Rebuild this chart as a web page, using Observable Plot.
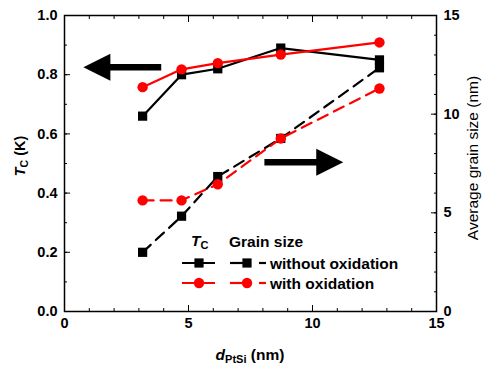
<!DOCTYPE html>
<html><head><meta charset="utf-8">
<script src="https://cdn.jsdelivr.net/npm/d3@7"></script>
<script src="https://cdn.jsdelivr.net/npm/@observablehq/plot@0.6"></script>
<style>body{margin:0;background:#fff;font-family:"Liberation Sans",Arial,sans-serif}</style>
</head><body><div id="chart"></div>
<script>
// Data
const thickness = [3.15, 4.72, 6.18, 8.72, 12.7];          // d_PtSi (nm)
const tcWithout = [0.66, 0.80, 0.82, 0.89, 0.85];          // Tc (K), without oxidation
const tcWith    = [0.758, 0.818, 0.839, 0.868, 0.909];     // Tc (K), with oxidation
const grainWithout = [3.0, 4.83, 6.84, 8.77, 12.35];       // grain size (nm)
const grainWith    = [5.63, 5.63, 6.45, 8.77, 11.3];       // grain size (nm)
const xTicks = [0, 5, 10, 15];
const yTicks = [0, 0.2, 0.4, 0.6, 0.8, 1.0];
const rightTicks = [0, 5, 10, 15];
const grainMax = 15;
// annotation arrows
const arrowLeft = {tail: 3.9, tip: 0.76, y: 0.825};
const arrowRight = {tail: 8.06, tip: 11.24, y: 0.504};

const rows = thickness.map((x, i) => ({x, tcA: tcWithout[i], tcB: tcWith[i], gA: grainWithout[i] / grainMax, gB: grainWith[i] / grainMax}));
const arrows = [arrowLeft, arrowRight].map(a => ({...a, base: a.tip + (a.tail > a.tip ? 1 : -1) * 0.9, rot: a.tail > a.tip ? 180 : 0}));

const arrowHead = {draw(ctx) { ctx.moveTo(0, 0); ctx.lineTo(-27, -13.5); ctx.lineTo(-27, 13.5); ctx.closePath(); }};
const RED = "#ff0000";
const font = '"Liberation Sans", Arial, sans-serif';

const chart = Plot.plot({
  width: 484, height: 369,
  marginLeft: 64, marginRight: 48, marginTop: 15, marginBottom: 58,
  style: {fontFamily: font, fontSize: "13px", fontWeight: "bold", color: "#000", background: "#fff"},
  x: {domain: [0, 15]},
  y: {domain: [0, 1]},
  marks: [
    // minor ticks
    Plot.axisX({ticks: d3.range(0, 15.01, 1), tickSize: -3, text: null, anchor: "bottom", label: null}),
    Plot.axisX({ticks: d3.range(0, 15.01, 1), tickSize: -3, text: null, anchor: "top", label: null}),
    Plot.axisY({ticks: d3.range(0, 1.001, 0.1), tickSize: -3, text: null, anchor: "left", label: null}),
    Plot.axisY({ticks: d3.range(0, 15.01, 1).map(d => d / grainMax), tickSize: -3, text: null, anchor: "right", label: null}),
    // major ticks
    Plot.axisX({ticks: xTicks, tickSize: -6, text: null, anchor: "bottom", label: null}),
    Plot.axisX({ticks: xTicks, tickSize: -6, text: null, anchor: "top", label: null}),
    Plot.axisY({ticks: yTicks, tickSize: -6, text: null, anchor: "left", label: null}),
    Plot.axisY({ticks: rightTicks.map(d => d / grainMax), tickSize: -6, text: null, anchor: "right", label: null}),
    // labels
    Plot.axisX({ticks: xTicks, tickSize: 0, tickPadding: 6, anchor: "bottom", label: null, fontSize: 14.5}),
    Plot.axisY({ticks: yTicks, tickSize: 0, tickPadding: 7, anchor: "left", label: null, tickFormat: d3.format(".1f"), fontSize: 14.5}),
    Plot.axisY({ticks: rightTicks.map(d => d / grainMax), tickSize: 0, tickPadding: 7, anchor: "right", label: null, tickFormat: d => Math.round(d * grainMax), fontSize: 14.5}),
    Plot.frame({stroke: "#000", strokeWidth: 1.5}),
    // arrows
    Plot.link(arrows, {x1: "tail", x2: "base", y1: "y", y2: "y", stroke: "#000", strokeWidth: 6.5}),
    Plot.dot(arrows, {x: "tip", y: "y", symbol: arrowHead, rotate: "rot", fill: "#000", stroke: "none"}),
    // grain size (dashed)
    Plot.line(rows, {x: "x", y: "gA", stroke: "#000", strokeWidth: 2.2, strokeDasharray: "11,7"}),
    Plot.dot(rows, {x: "x", y: "gA", symbol: "square", r: 5.2, fill: "#000"}),
    Plot.line(rows, {x: "x", y: "gB", stroke: RED, strokeWidth: 2.2, strokeDasharray: "11,7"}),
    Plot.dot(rows, {x: "x", y: "gB", symbol: "circle", r: 5.2, fill: RED}),
    // Tc (solid)
    Plot.line(rows, {x: "x", y: "tcA", stroke: "#000", strokeWidth: 2.2}),
    Plot.dot(rows, {x: "x", y: "tcA", symbol: "square", r: 5.2, fill: "#000"}),
    Plot.line(rows, {x: "x", y: "tcB", stroke: RED, strokeWidth: 2.2}),
    Plot.dot(rows, {x: "x", y: "tcB", symbol: "circle", r: 5.2, fill: RED})
  ]
});

const svg = d3.select(chart);
// axis titles
const yl = svg.append("text").attr("transform", "translate(25,156) rotate(-90)").attr("text-anchor", "middle")
  .style("font-size", "14.5px").style("font-weight", "bold").style("font-family", font);
yl.append("tspan").text("T").style("font-style", "italic");
yl.append("tspan").text("C").attr("dy", 3).style("font-size", "10.5px");
yl.append("tspan").text(" (K)").attr("dy", -3);

svg.append("text").attr("transform", "translate(478,158) rotate(-90)").attr("text-anchor", "middle")
  .style("font-size", "15.5px").style("font-weight", "normal").style("font-family", font).text("Average grain size (nm)");

const xl = svg.append("text").attr("x", 250).attr("y", 360).attr("text-anchor", "middle")
  .style("font-size", "15.5px").style("font-weight", "bold").style("font-family", font);
xl.append("tspan").text("d").style("font-style", "italic");
xl.append("tspan").text("PtSi").attr("dy", 3).style("font-size", "11px");
xl.append("tspan").text(" (nm)").attr("dy", -3);

// legend
const lg = svg.append("g").attr("text-anchor", "start").style("font-family", font).style("font-weight", "bold");
const th = lg.append("text").attr("x", 191).attr("y", 246).style("font-size", "15.5px");
th.append("tspan").text("T").style("font-style", "italic");
th.append("tspan").text("C").attr("dy", 3).style("font-size", "11px");
lg.append("text").attr("x", 229).attr("y", 247).style("font-size", "15.5px").text("Grain size");
const legendRows = [
  {y: 263, color: "#000", sym: "square", label: "without oxidation"},
  {y: 283, color: RED, sym: "circle", label: "with oxidation"}
];
for (const r of legendRows) {
  lg.append("line").attr("x1", 182).attr("x2", 215).attr("y1", r.y).attr("y2", r.y).attr("stroke", r.color).attr("stroke-width", 2.2);
  lg.append("line").attr("x1", 230).attr("x2", 250).attr("y1", r.y).attr("y2", r.y).attr("stroke", r.color).attr("stroke-width", 2.2);
  lg.append("line").attr("x1", 259).attr("x2", 266).attr("y1", r.y).attr("y2", r.y).attr("stroke", r.color).attr("stroke-width", 2.2);
  for (const cx of [199, 247]) {
    if (r.sym === "square") lg.append("rect").attr("x", cx - 4.6).attr("y", r.y - 4.6).attr("width", 9.2).attr("height", 9.2).attr("fill", r.color);
    else lg.append("circle").attr("cx", cx).attr("cy", r.y).attr("r", 5.2).attr("fill", r.color);
  }
  lg.append("text").attr("x", 270).attr("y", r.y + 5.5).style("font-size", "15.5px").text(r.label);
}
document.getElementById("chart").appendChild(chart);
</script>
</body></html>
